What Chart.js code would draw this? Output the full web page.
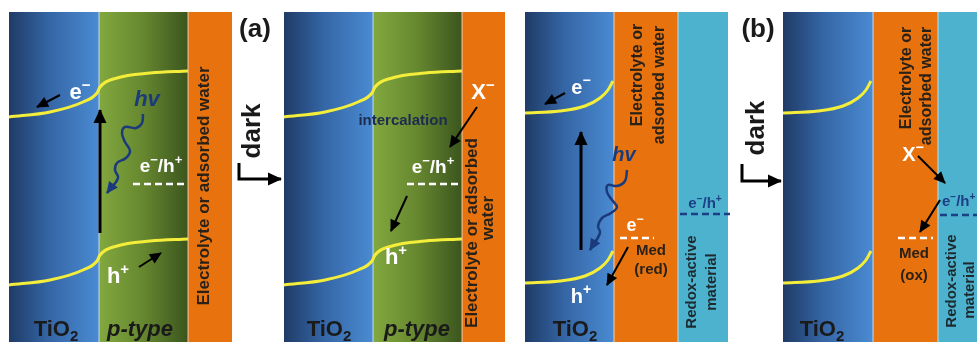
<!DOCTYPE html>
<html>
<head>
<meta charset="utf-8">
<script src="https://cdn.jsdelivr.net/npm/chart.js@4.4.0/dist/chart.umd.min.js"></script>
<style>
  html, body { margin: 0; padding: 0; background: #fff; }
  #wrap { width: 977px; height: 342px; }
</style>
</head>
<body>
<div id="wrap"><canvas id="diagram"></canvas></div>
<script>
// layer bands (x from/to in diagram units, same as picture pixels)
const bandKind  = ['tio2', 'ptype', 'elec', 'tio2', 'ptype', 'elec', 'tio2', 'elec', 'redox', 'tio2', 'elec', 'redox'];
const bandLeft  = [9, 99, 188, 284, 373, 462, 525, 614, 678, 783, 873, 938];
const bandRight = [99, 188, 232, 373, 462, 505, 614, 678, 728, 873, 938, 977];
const bandTop = 12, bandBottom = 342;

// band edges (yellow curves)
const cbA1X = [9, 50, 83, 97, 100, 117, 150, 188];
const cbA1Y = [117, 112, 102, 93, 87, 78, 73, 71];
const vbA1Y = [285, 280, 270, 261, 255, 246, 241, 239];
const cbA2X = [284, 325, 358, 372, 375, 392, 425, 462];
const cbA2Y = [117, 112, 102, 93, 87, 78, 73, 71];
const vbA2Y = [285, 280, 270, 261, 255, 246, 241, 239];
const cbB1X = [525, 560, 585, 600, 608, 613];
const cbB1Y = [113, 111, 106, 98, 90, 81];
const vbB1Y = [283, 281, 276, 268, 260, 251];
const cbB2X = [783, 818, 843, 858, 866, 871];
const cbB2Y = [113, 111, 106, 98, 90, 81];
const vbB2Y = [283, 281, 276, 268, 260, 251];

// photon paths (hv)
const hvA1X = [143, 142, 136, 125, 122, 125, 130, 126, 117, 115, 118, 107];
const hvA1Y = [114, 123, 128, 127, 133, 142, 151, 158, 163, 170, 178, 193];
const hvB1X = [627, 625, 617, 608, 607, 612, 617, 611, 602, 598, 600, 590];
const hvB1Y = [170, 181, 186, 185, 192, 200, 207, 213, 218, 226, 233, 250];

// trap / mediator levels (dashed)
const levelX = [[133, 188], [407, 462], [620, 654], [680, 730], [898, 933], [940, 977]];
const levelY = [184, 184, 238, 214, 238, 215];
const levelCol = ['#ffffff', '#ffffff', '#ffffff', '#1c3f86', '#ffffff', '#1c3f86'];

// black arrows
const arrowX = [[60, 37], [100, 100], [139, 161], [477, 450], [407, 391], [565, 545], [581, 581], [628, 607], [918, 945], [940, 920], [239, 239, 281], [742, 742, 781]];
const arrowY = [[95, 107], [233, 110], [267, 253], [107, 147], [196, 231], [93, 104], [250, 132], [247, 285], [156, 183], [200, 232], [163, 179, 179], [164, 181, 181]];
const arrowW = [2, 3, 2, 2, 2, 2, 3, 2, 2, 2, 3, 3];

// text labels: ^ = superscript, _ = subscript
const labelText = ['e^−', 'hv', 'e^−/h^+', 'h^+', 'TiO_2', 'p-type', 'Electrolyte or adsorbed water', '(a)', 'dark',
  'intercalation', 'X^−', 'e^−/h^+', 'h^+', 'TiO_2', 'p-type', 'Electrolyte or adsorbed', 'water',
  'e^−', 'hv', 'e^−', 'Med', '(red)', 'h^+', 'TiO_2', 'Electrolyte or', 'adsorbed water', 'e^−/h^+', 'Redox-active', 'material',
  '(b)', 'dark', 'Electrolyte or', 'adsorbed water', 'X^−', 'e^−/h^+', 'Med', '(ox)', 'Redox-active', 'material', 'TiO_2'];
const labelX = [80, 147, 161, 118, 56, 140, 204, 255, 253,
  403, 483, 433, 396, 329, 417, 472, 488,
  581, 624, 635, 651, 651, 581, 575, 638, 660, 705, 692, 712,
  758, 757, 907, 927, 913, 942, 914, 914, 952, 970, 822];
const labelY = [93, 100, 167, 277, 330, 330, 186, 30, 131,
  121, 93, 168, 258, 330, 330, 233, 218,
  88, 155, 226, 251, 270, 297, 330, 75, 85, 204, 282, 282,
  30, 128, 78, 86, 155, 202, 254, 276, 281, 290, 330];

const WHITE = '#ffffff', NAVY = '#1b3a7c', INK = '#1a1a1a', DARK = '#2a2118';
const labelStyle = [
  [22, 'b', WHITE], [22, 'bi', NAVY], [19, 'b', WHITE], [22, 'b', WHITE], [22, 'b', INK], [22, 'bi', INK], [17, 'br', DARK], [26, 'b', INK], [26, 'br', INK],
  [15, 'b', '#1d2b4f'], [22, 'b', WHITE], [19, 'b', WHITE], [22, 'b', WHITE], [22, 'b', INK], [22, 'bi', INK], [17, 'br', DARK], [17, 'br', DARK],
  [20, 'b', WHITE], [20, 'bi', NAVY], [18, 'b', WHITE], [15, 'b', DARK], [15, 'b', DARK], [20, 'b', WHITE], [22, 'b', INK], [16, 'br', DARK], [16, 'br', DARK], [15, 'b', '#1c3f86'], [15, 'br', '#1e2a30'], [15, 'br', '#1e2a30'],
  [26, 'b', INK], [26, 'br', INK], [16, 'br', DARK], [16, 'br', DARK], [20, 'b', WHITE], [15, 'bl', '#1c3f86'], [15, 'b', DARK], [15, 'b', DARK], [15, 'br', '#1e2a30'], [15, 'br', '#1e2a30'], [22, 'b', INK]
];

const zip = (xs, ys) => xs.map((v, i) => ({ x: v, y: ys[i] }));

const datasets = [];
// yellow band edges
[[cbA1X, cbA1Y], [cbA1X, vbA1Y], [cbA2X, cbA2Y], [cbA2X, vbA2Y], [cbB1X, cbB1Y], [cbB1X, vbB1Y], [cbB2X, cbB2Y], [cbB2X, vbB2Y]].forEach(([xs, ys]) => {
  datasets.push({ data: zip(xs, ys), borderColor: '#f4ee3a', borderWidth: 3, cubicInterpolationMode: 'monotone' });
});
// photon paths
[[hvA1X, hvA1Y], [hvB1X, hvB1Y]].forEach(([xs, ys]) => {
  datasets.push({ data: zip(xs, ys), borderColor: '#1b3a7c', borderWidth: 2.5, tension: 0.4, arrow: true });
});
// dashed levels
levelX.forEach((xs, i) => {
  datasets.push({ data: zip(xs, [levelY[i], levelY[i]]), borderColor: levelCol[i], borderWidth: 2.5, borderDash: [7, 4] });
});
// arrows
arrowX.forEach((xs, i) => {
  datasets.push({ data: zip(xs, arrowY[i]), borderColor: '#000000', borderWidth: arrowW[i], arrow: true });
});
datasets.forEach(d => { d.pointRadius = 0; d.fill = false; });

const bandsPlugin = {
  id: 'bands',
  beforeDatasetsDraw(chart) {
    const { ctx, scales: { x, y } } = chart;
    ctx.save();
    bandKind.forEach((kind, i) => {
      const x0 = x.getPixelForValue(bandLeft[i]), x1 = x.getPixelForValue(bandRight[i]);
      const y0 = y.getPixelForValue(bandTop), y1 = y.getPixelForValue(bandBottom);
      let fill;
      if (kind === 'tio2') {
        fill = ctx.createLinearGradient(x0, 0, x1, 0);
        fill.addColorStop(0, '#1f3b66');
        fill.addColorStop(0.45, '#3566a6');
        fill.addColorStop(1, '#4a8bd2');
      } else if (kind === 'ptype') {
        fill = ctx.createLinearGradient(x0, 0, x1, 0);
        fill.addColorStop(0, '#82a83f');
        fill.addColorStop(0.5, '#66872f');
        fill.addColorStop(1, '#3b551e');
      } else if (kind === 'elec') {
        fill = '#e8730e';
      } else {
        fill = '#4cb2cd';
      }
      ctx.fillStyle = fill;
      ctx.fillRect(x0, y0, x1 - x0, y1 - y0);
      if (i > 0 && bandRight[i - 1] === bandLeft[i]) {
        ctx.fillStyle = 'rgba(235,240,245,0.75)';
        ctx.fillRect(x0 - 0.5, y0, 1, y1 - y0);
      }
    });
    ctx.restore();
  }
};

const arrowPlugin = {
  id: 'arrowheads',
  afterDatasetsDraw(chart) {
    const ctx = chart.ctx;
    chart.data.datasets.forEach((ds, i) => {
      if (!ds.arrow) return;
      const pts = chart.getDatasetMeta(i).data;
      const a = pts[pts.length - 2], b = pts[pts.length - 1];
      const ang = Math.atan2(b.y - a.y, b.x - a.x);
      const len = ds.borderWidth >= 3 ? 13 : 11, half = ds.borderWidth >= 3 ? 6.5 : 5.5;
      ctx.save();
      ctx.translate(b.x, b.y);
      ctx.rotate(ang);
      ctx.fillStyle = ds.borderColor;
      ctx.beginPath();
      ctx.moveTo(1, 0);
      ctx.lineTo(-len, -half);
      ctx.lineTo(-len, half);
      ctx.closePath();
      ctx.fill();
      ctx.restore();
    });
  }
};

function drawRich(ctx, str, px, py, size, style, color) {
  const segs = [];
  for (let i = 0; i < str.length; i++) {
    const c = str[i];
    if ((c === '^' || c === '_') && i + 1 < str.length) { segs.push({ t: str[i + 1], k: c }); i++; }
    else if (segs.length && !segs[segs.length - 1].k) segs[segs.length - 1].t += c;
    else segs.push({ t: c, k: null });
  }
  const it = style.includes('i') ? 'italic ' : '';
  const fam = '"Liberation Sans", Arial, sans-serif';
  const big = `${it}bold ${size}px ${fam}`;
  const small = `${it}bold ${Math.round(size * 0.68)}px ${fam}`;
  let total = 0;
  segs.forEach(s => { ctx.font = s.k ? small : big; s.w = ctx.measureText(s.t).width; total += s.w; });
  ctx.save();
  ctx.translate(px, py);
  if (style.includes('r')) ctx.rotate(-Math.PI / 2);
  ctx.fillStyle = color;
  ctx.textBaseline = 'middle';
  ctx.textAlign = 'left';
  let cx = style.includes('l') ? 0 : -total / 2;
  segs.forEach(s => {
    ctx.font = s.k ? small : big;
    const dy = s.k === '^' ? -size * 0.33 : s.k === '_' ? size * 0.3 : 0;
    ctx.fillText(s.t, cx, dy);
    cx += s.w;
  });
  ctx.restore();
}

const labelPlugin = {
  id: 'labels',
  afterDraw(chart) {
    const { ctx, scales: { x, y } } = chart;
    labelText.forEach((t, i) => {
      const [size, style, color] = labelStyle[i];
      drawRich(ctx, t, x.getPixelForValue(labelX[i]), y.getPixelForValue(labelY[i]), size, style, color);
    });
  }
};

new Chart(document.getElementById('diagram'), {
  type: 'line',
  data: { datasets },
  options: {
    responsive: true,
    maintainAspectRatio: false,
    animation: false,
    events: [],
    layout: { padding: 0 },
    plugins: { legend: { display: false }, tooltip: { enabled: false } },
    scales: {
      x: { type: 'linear', min: 0, max: 977, display: false },
      y: { type: 'linear', min: 0, max: 342, reverse: true, display: false }
    }
  },
  plugins: [bandsPlugin, arrowPlugin, labelPlugin]
});
</script>
</body>
</html>
